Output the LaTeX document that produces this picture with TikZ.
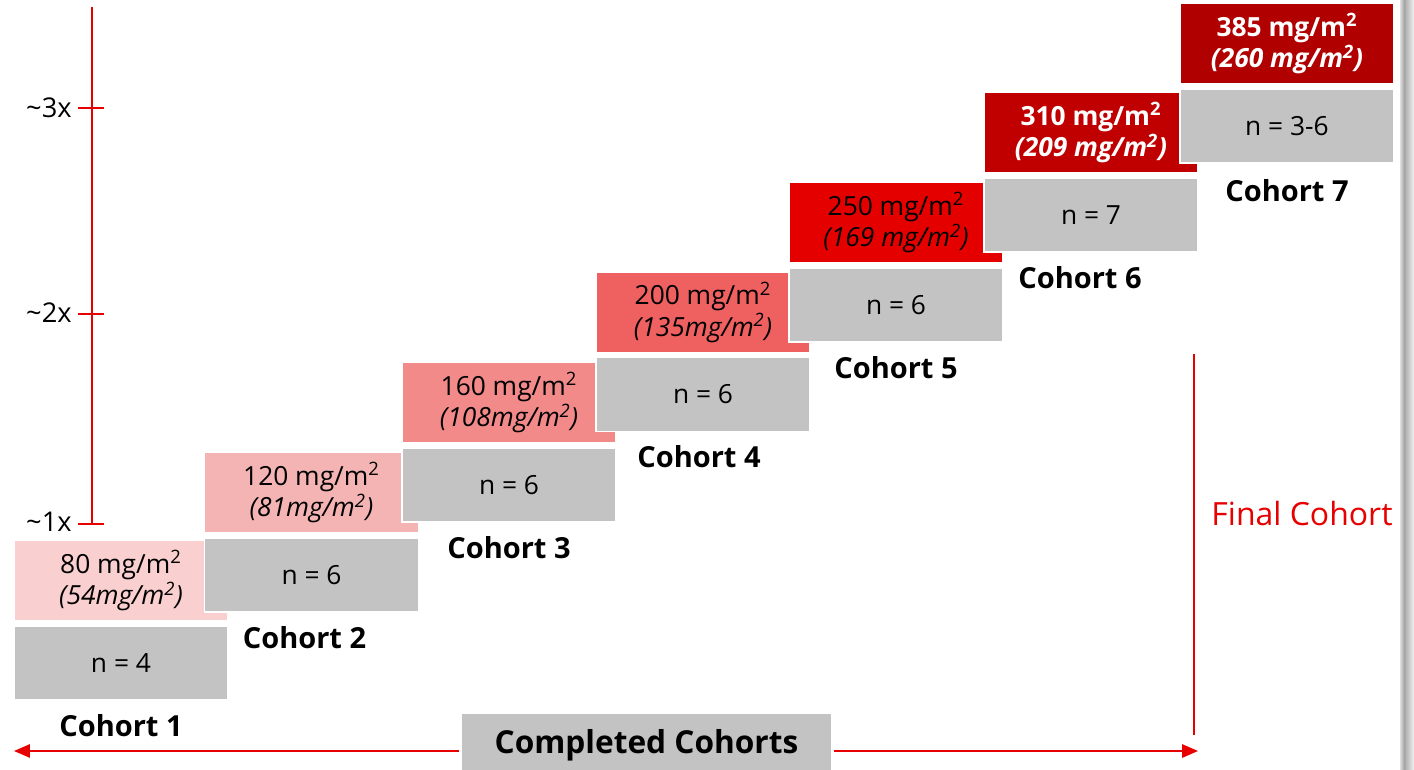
\documentclass[tikz,border=0pt]{standalone}
\usepackage{fontspec}
\setmainfont{Open Sans}
\usetikzlibrary{positioning}
\usetikzlibrary{arrows.meta}

\definecolor{doseA}{HTML}{F9CFCF}
\definecolor{doseB}{HTML}{F4B4B4}
\definecolor{doseC}{HTML}{F28A8A}
\definecolor{doseD}{HTML}{EF6060}
\definecolor{doseE}{HTML}{E50000}
\definecolor{doseF}{HTML}{C00000}
\definecolor{doseG}{HTML}{B00000}
\definecolor{boxgray}{HTML}{C3C3C3}
\definecolor{axisred}{HTML}{E60000}

\newcommand{\msq}{mg/m\textsuperscript{2}}

\begin{document}
\begin{tikzpicture}[x=0.02cm, y=-0.02cm,
    nbox/.style={draw=white, line width=1pt, fill=boxgray, minimum width=4.28cm, minimum height=1.48cm, inner sep=0pt, font=\fontsize{15}{18}\selectfont},
    dosebox/.style={draw=white, line width=1pt, minimum width=4.28cm, minimum height=1.62cm, inner sep=0pt, align=center, font=\fontsize{15}{18}\selectfont},
    dosehot/.style={dosebox, text=white, font=\fontsize{15}{18}\selectfont\bfseries},
    cohortlabel/.style={inner sep=0pt, font=\fontsize{16.5}{20}\selectfont\bfseries},
    redline/.style={draw=axisred, line width=0.8pt},
    ticklabel/.style={inner sep=0pt, font=\fontsize{15.5}{18}\selectfont}]
    \useasboundingbox (0,0) rectangle (1414,770);

    % dose axis
    \coordinate (atop) at (92,7);
    \coordinate (abot) at (92,524);
    \draw[redline] (atop) -- (abot);
    \draw[redline] (78,108) -- (104,108);
    \draw[redline] (78,314) -- (104,314);
    \draw[redline] (78,524) -- (104,524);
    \node[ticklabel, anchor=east] (x3) at (72,108) {\textasciitilde3x};
    \node[ticklabel, anchor=east] (x2) at (72,313) {\textasciitilde2x};
    \node[ticklabel, anchor=east] (x1) at (72,522) {\textasciitilde1x};

    % cohorts, lowest dose first
    \node[nbox] (n1) at (121,663) {n = 4};
    \node[dosebox, fill=doseA, above=0.06cm of n1] (d1) {80 \msq\\\textit{(54\msq)}};
    \node[cohortlabel, below=0.26cm of n1] (c1) {Cohort 1};

    \node[nbox] (n2) at (311.5,575) {n = 6};
    \node[dosebox, fill=doseB, above=0.06cm of n2] (d2) {120 \msq\\\textit{(81\msq)}};
    \node[cohortlabel, below=0.26cm of n2, xshift=-0.14cm] (c2) {Cohort 2};

    \node[nbox] (n3) at (509,485) {n = 6};
    \node[dosebox, fill=doseC, above=0.06cm of n3] (d3) {160 \msq\\\textit{(108\msq)}};
    \node[cohortlabel, below=0.26cm of n3] (c3) {Cohort 3};

    \node[nbox] (n4) at (703,394.5) {n = 6};
    \node[dosebox, fill=doseD, above=0.06cm of n4] (d4) {200 \msq\\\textit{(135\msq)}};
    \node[cohortlabel, below=0.26cm of n4, xshift=-0.08cm] (c4) {Cohort 4};

    \node[nbox] (n5) at (896,305) {n = 6};
    \node[dosebox, fill=doseE, above=0.06cm of n5] (d5) {250 \msq\\\textit{(169 \msq)}};
    \node[cohortlabel, below=0.26cm of n5] (c5) {Cohort 5};

    \node[nbox] (n6) at (1091,215) {n = 7};
    \node[dosehot, fill=doseF, above=0.06cm of n6] (d6) {310 \msq\\\textit{(209 \msq)}};
    \node[cohortlabel, below=0.26cm of n6, xshift=-0.22cm] (c6) {Cohort 6};

    \node[nbox] (n7) at (1287,126) {n = 3-6};
    \node[dosehot, fill=doseG, above=0.06cm of n7] (d7) {385 \msq\\\textit{(260 \msq)}};
    \node[cohortlabel, below=0.3cm of n7] (c7) {Cohort 7};

    % completed / final
    \node[fill=boxgray, minimum width=7.38cm, minimum height=1.24cm, inner sep=0pt, font=\fontsize{18}{20}\selectfont\bfseries] (done) at (646.5,745) {Completed Cohorts};
    \coordinate (aleft) at (14,751);
    \coordinate (aright) at (1198,751);
    \draw[redline, -{Triangle[length=0.32cm, width=0.27cm]}] ([xshift=-0.05cm]done.west |- aleft) -- (aleft);
    \draw[redline, -{Triangle[length=0.32cm, width=0.27cm]}] ([xshift=0.05cm]done.east |- aright) -- (aright);

    \coordinate (ftop) at (1194,354);
    \coordinate (fbot) at (1194,735);
    \draw[redline] (ftop) -- (fbot);
    \node[text=axisred, inner sep=0pt, font=\fontsize{18.2}{20}\selectfont] (final) at (1302,514) {Final Cohort};

    % page edge shadow
    \shade[left color=gray!25, right color=gray!70] (1400,0) rectangle (1404,770);
    \shade[left color=gray!70, right color=gray!10] (1404,0) rectangle (1414,770);
\end{tikzpicture}
\end{document}
